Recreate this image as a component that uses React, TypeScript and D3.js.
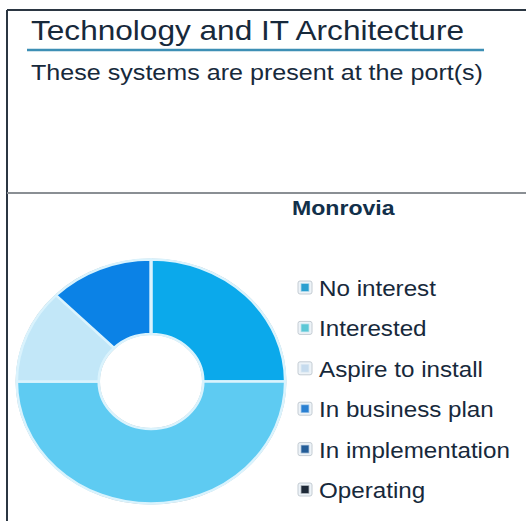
import React, { useEffect, useRef } from 'react';
import * as d3 from 'd3';

// Technology and IT Architecture — port status donut (Monrovia)

const categories = ['No interest', 'Interested', 'Aspire to install', 'In business plan', 'In implementation', 'Operating'];
const portCounts = [2, 4, 1, 1, 0, 0];
const sliceColors = ['#0ba9eb', '#5ecbf2', '#c2e7f8', '#0b82e6', '#1d5fa8', '#1f2b3a'];
const markerColors = ['#2a9fd0', '#5cc8d6', '#c6dbee', '#2a80d2', '#245d98', '#1e2a38'];

const WIDTH = 526;
const HEIGHT = 521;
const STRETCH = 1.1; // the original is drawn slightly wide

const App = () => {
    const svgRef = useRef<SVGSVGElement>(null);

    useEffect(() => {
        const svg = d3.select(svgRef.current);
        svg.selectAll('*').remove();

        const font = '"Liberation Sans", Arial, sans-serif';
        const ink = '#17293b';

        // frame
        svg.append('line').attr('x1', 7).attr('x2', WIDTH).attr('y1', 10).attr('y2', 10)
            .attr('stroke', '#2b3642').attr('stroke-width', 2);
        svg.append('line').attr('x1', 7).attr('x2', 7).attr('y1', 10).attr('y2', HEIGHT)
            .attr('stroke', '#2b3642').attr('stroke-width', 2);
        svg.append('line').attr('x1', 7).attr('x2', WIDTH).attr('y1', 193).attr('y2', 193)
            .attr('stroke', '#8a8f94').attr('stroke-width', 2);

        // title block
        svg.append('text')
            .attr('x', 31).attr('y', 40)
            .attr('textLength', 433).attr('lengthAdjust', 'spacingAndGlyphs')
            .attr('font-family', font).attr('font-size', 28.5).attr('fill', ink)
            .text('Technology and IT Architecture');
        svg.append('line').attr('x1', 27).attr('x2', 484).attr('y1', 50).attr('y2', 50)
            .attr('stroke', '#3d8fb5').attr('stroke-width', 2.5);
        svg.append('text')
            .attr('x', 31).attr('y', 80)
            .attr('textLength', 452).attr('lengthAdjust', 'spacingAndGlyphs')
            .attr('font-family', font).attr('font-size', 21.5).attr('fill', ink)
            .text('These systems are present at the port(s)');

        svg.append('text')
            .attr('transform', `translate(292,215) scale(${STRETCH},1)`)
            .attr('font-family', font).attr('font-size', 21).attr('font-weight', 'bold')
            .attr('fill', '#12304a')
            .text('Monrovia');

        // donut
        const pie = d3.pie<number>().sort(null).value(d => d);
        const arc = d3.arc<d3.PieArcDatum<number>>().innerRadius(47.5).outerRadius(122);
        const g = svg.append('g').attr('transform', `translate(151,381.5) scale(${STRETCH},1)`);

        g.append('circle').attr('r', 122.5).attr('fill', 'none')
            .attr('stroke', '#b9c2c8').attr('stroke-width', 1.2);
        g.append('circle').attr('r', 47).attr('fill', 'none')
            .attr('stroke', '#b9c2c8').attr('stroke-width', 1.2);

        g.selectAll('path.slice')
            .data(pie(portCounts))
            .enter()
            .append('path')
            .attr('class', 'slice')
            .attr('d', arc)
            .attr('fill', (d, i) => sliceColors[i])
            .attr('stroke', '#daf3fd')
            .attr('stroke-width', 2.4)
            .attr('stroke-linejoin', 'round');

        // legend
        const legendY = d3.scalePoint<string>().domain(categories).range([296, 498]);
        const legend = svg.append('g');
        categories.forEach((name, i) => {
            const y = legendY(name) as number;
            legend.append('rect')
                .attr('x', 298).attr('y', y - 15).attr('width', 14).attr('height', 13)
                .attr('rx', 2)
                .attr('fill', '#edf3f8')
                .attr('stroke', '#c4ccd3').attr('stroke-width', 1);
            legend.append('rect')
                .attr('x', 301.5).attr('y', y - 12).attr('width', 7).attr('height', 7)
                .attr('fill', markerColors[i])
                .attr('stroke', markerColors[i]).attr('stroke-opacity', 0.45).attr('stroke-width', 1.5);
            legend.append('text')
                .attr('transform', `translate(319,${y}) scale(${STRETCH},1)`)
                .attr('font-family', font).attr('font-size', 22).attr('fill', ink)
                .text(name);
        });
    }, []);

    return (
        <svg
            ref={svgRef}
            width={WIDTH}
            height={HEIGHT}
            style={{ position: 'absolute', left: 0, top: 0, background: '#ffffff' }}
        />
    );
};

export default App;
